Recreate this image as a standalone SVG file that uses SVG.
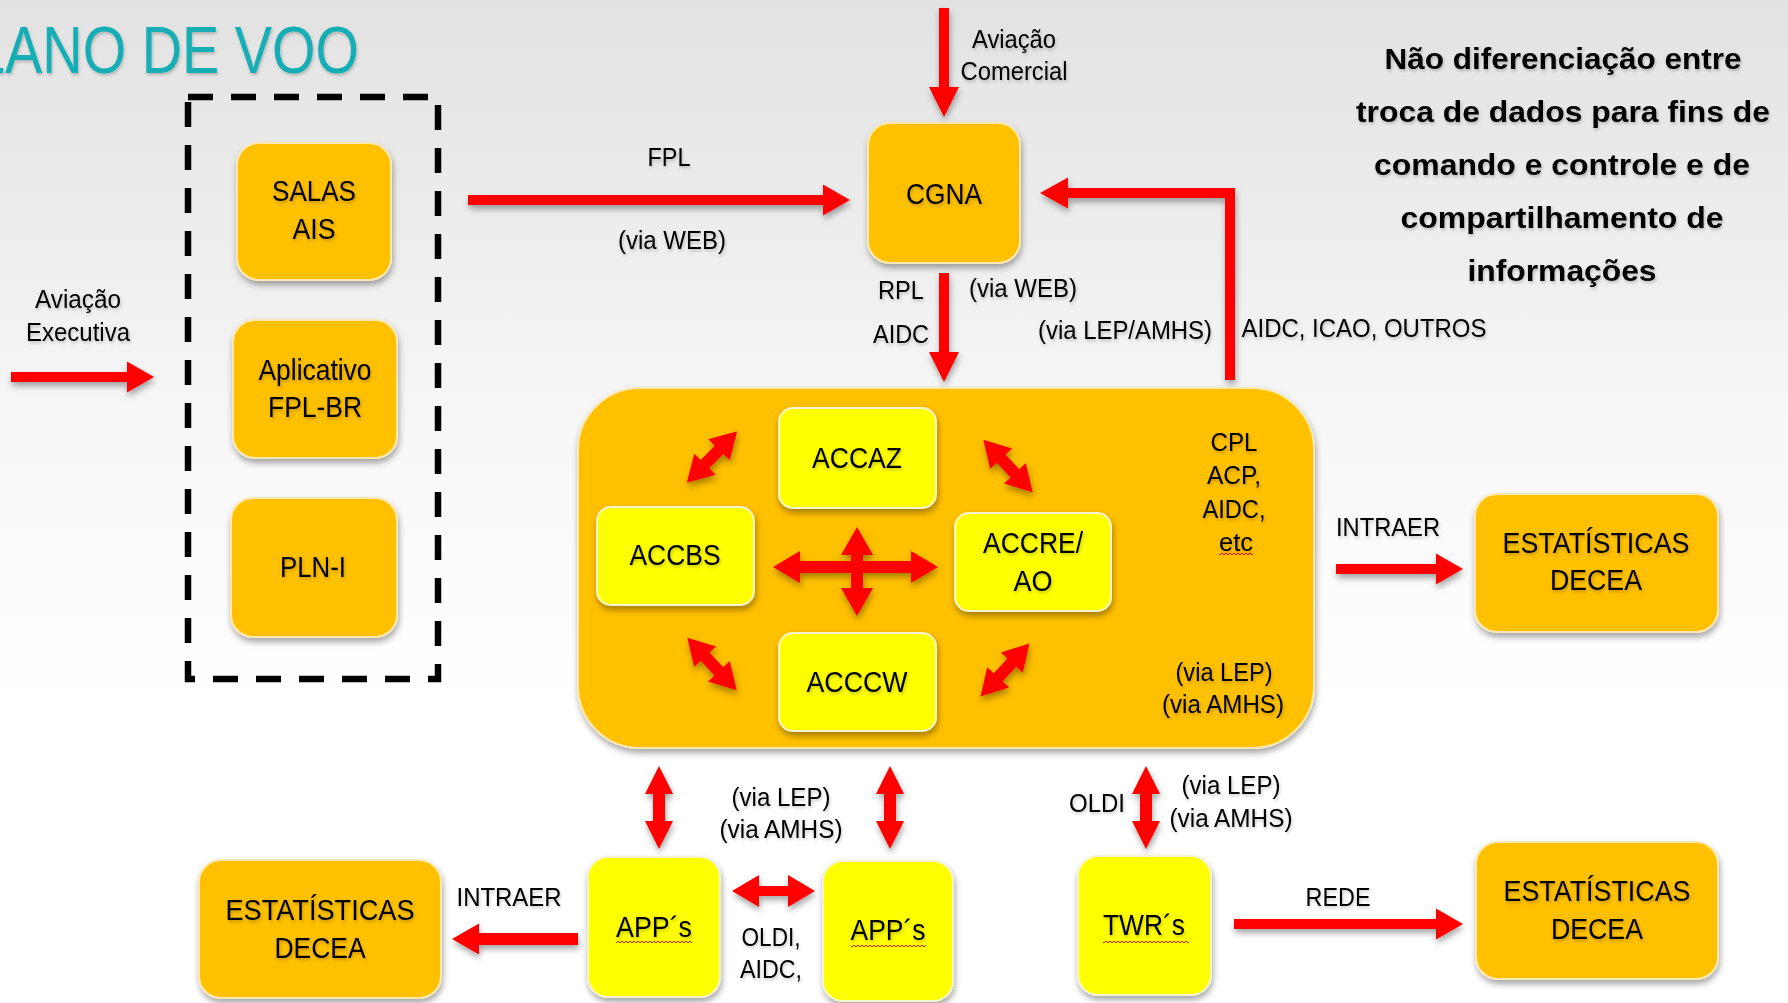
<svg xmlns="http://www.w3.org/2000/svg" xmlns:xlink="http://www.w3.org/1999/xlink" width="1788" height="1003" viewBox="0 0 1788 1003">
<defs>
<linearGradient id="bg" x1="0" y1="0" x2="0" y2="1">
<stop offset="0" stop-color="#e2e2e2"/>
<stop offset="0.45" stop-color="#f8f8f8"/>
<stop offset="0.7" stop-color="#ffffff"/>
<stop offset="1" stop-color="#ffffff"/>
</linearGradient>
<filter id="sh" x="-20%" y="-20%" width="140%" height="150%">
<feDropShadow dx="1" dy="4" stdDeviation="3" flood-color="#000" flood-opacity="0.35"/>
</filter>
<filter id="tsh" x="-10%" y="-20%" width="120%" height="150%">
<feDropShadow dx="1" dy="2" stdDeviation="1.5" flood-color="#000" flood-opacity="0.22"/>
</filter>
<pattern id="wavy" width="4" height="4" patternUnits="userSpaceOnUse">
<path d="M0 3 L2 1 L4 3" fill="none" stroke="#e00000" stroke-width="0.9"/>
</pattern>
<polygon id="dbl" points="-36,0 -10,-15 -10,-6 10,-6 10,-15 36,0 10,15 10,6 -10,6 -10,15"/>
<style>
text{font-family:"Liberation Sans",Arial,sans-serif;fill:#000;text-anchor:middle;filter:url(#tsh)}
.lb{font-size:25px}
.bx{font-size:29px}
.bd{font-size:30px;font-weight:bold}
.ttl{font-size:66px;fill:#12adb4;text-anchor:start}
.or{fill:#ffc000;stroke:#ffe9b0;stroke-width:2;filter:url(#sh)}
.ye{fill:#ffff00;stroke:#f4f4d0;stroke-width:2;filter:url(#sh)}
.arr{fill:#ff0000}
.wv{fill:url(#wavy)}
</style>
</defs>
<rect x="0" y="0" width="1788" height="1003" fill="url(#bg)"/>

<text class="ttl" x="-26" y="73" textLength="385" lengthAdjust="spacingAndGlyphs">LANO DE VOO</text>

<g id="note">
<text class="bd" x="1563" y="69" textLength="357" lengthAdjust="spacingAndGlyphs">Não diferenciação entre</text>
<text class="bd" x="1563" y="122" textLength="414" lengthAdjust="spacingAndGlyphs">troca de dados para fins de</text>
<text class="bd" x="1562" y="175" textLength="376" lengthAdjust="spacingAndGlyphs">comando e controle e de</text>
<text class="bd" x="1562" y="228" textLength="323" lengthAdjust="spacingAndGlyphs">compartilhamento de</text>
<text class="bd" x="1562" y="281" textLength="189" lengthAdjust="spacingAndGlyphs">informações</text>
</g>

<g id="group-dashed">
<rect x="188" y="97" width="250" height="582" fill="none" stroke="#000" stroke-width="6.5" stroke-dasharray="25 18"/>
</g>

<g id="salas-ais">
<rect class="or" x="237" y="143" width="154" height="137" rx="22"/>
<text class="bx" x="314" y="201" textLength="84" lengthAdjust="spacingAndGlyphs">SALAS</text>
<text class="bx" x="314" y="239" textLength="43" lengthAdjust="spacingAndGlyphs">AIS</text>
</g>
<g id="fpl-br">
<rect class="or" x="233" y="320" width="164" height="138" rx="22"/>
<text class="bx" x="315" y="380" textLength="113" lengthAdjust="spacingAndGlyphs">Aplicativo</text>
<text class="bx" x="315" y="417" textLength="94" lengthAdjust="spacingAndGlyphs">FPL-BR</text>
</g>
<g id="pln-i">
<rect class="or" x="231" y="498" width="166" height="139" rx="22"/>
<text class="bx" x="313" y="577" textLength="66" lengthAdjust="spacingAndGlyphs">PLN-I</text>
</g>

<g id="cgna">
<rect class="or" x="868" y="123" width="152" height="140" rx="22"/>
<text class="bx" x="944" y="204" textLength="76" lengthAdjust="spacingAndGlyphs">CGNA</text>
</g>

<g id="acc-center">
<rect class="or" x="578" y="388" width="736" height="360" rx="62"/>
<text class="lb" x="1234" y="451" textLength="47" lengthAdjust="spacingAndGlyphs">CPL</text>
<text class="lb" x="1234" y="484" textLength="54" lengthAdjust="spacingAndGlyphs">ACP,</text>
<text class="lb" x="1234" y="518" textLength="63" lengthAdjust="spacingAndGlyphs">AIDC,</text>
<text class="lb" x="1236" y="551" textLength="34" lengthAdjust="spacingAndGlyphs">etc</text>
<rect class="wv" x="1219" y="552" width="34" height="4"/>
<text class="lb" x="1224" y="681" textLength="97" lengthAdjust="spacingAndGlyphs">(via LEP)</text>
<text class="lb" x="1223" y="713" textLength="122" lengthAdjust="spacingAndGlyphs">(via AMHS)</text>
</g>
<g id="accaz">
<rect class="ye" x="779" y="408" width="157" height="100" rx="14"/>
<text class="bx" x="857" y="468" textLength="90" lengthAdjust="spacingAndGlyphs">ACCAZ</text>
</g>
<g id="accbs">
<rect class="ye" x="597" y="507" width="157" height="98" rx="14"/>
<text class="bx" x="675" y="565" textLength="91" lengthAdjust="spacingAndGlyphs">ACCBS</text>
</g>
<g id="accre-ao">
<rect class="ye" x="955" y="513" width="156" height="98" rx="14"/>
<text class="bx" x="1033" y="553" textLength="100" lengthAdjust="spacingAndGlyphs">ACCRE/</text>
<text class="bx" x="1033" y="591" textLength="39" lengthAdjust="spacingAndGlyphs">AO</text>
</g>
<g id="acccw">
<rect class="ye" x="779" y="633" width="157" height="98" rx="14"/>
<text class="bx" x="857" y="692" textLength="101" lengthAdjust="spacingAndGlyphs">ACCCW</text>
</g>

<g id="estatisticas-top">
<rect class="or" x="1475" y="494" width="243" height="138" rx="22"/>
<text class="bx" x="1596" y="553" textLength="187" lengthAdjust="spacingAndGlyphs">ESTATÍSTICAS</text>
<text class="bx" x="1596" y="590" textLength="92" lengthAdjust="spacingAndGlyphs">DECEA</text>
</g>
<g id="estatisticas-bottom">
<rect class="or" x="1476" y="842" width="242" height="137" rx="22"/>
<text class="bx" x="1597" y="901" textLength="187" lengthAdjust="spacingAndGlyphs">ESTATÍSTICAS</text>
<text class="bx" x="1597" y="939" textLength="92" lengthAdjust="spacingAndGlyphs">DECEA</text>
</g>
<g id="estatisticas-left">
<rect class="or" x="199" y="860" width="242" height="138" rx="22"/>
<text class="bx" x="320" y="920" textLength="189" lengthAdjust="spacingAndGlyphs">ESTATÍSTICAS</text>
<text class="bx" x="320" y="958" textLength="91" lengthAdjust="spacingAndGlyphs">DECEA</text>
</g>

<g id="app-1">
<rect class="ye" x="588" y="857" width="132" height="140" rx="20"/>
<text class="bx" x="654" y="937" textLength="76" lengthAdjust="spacingAndGlyphs">APP´s</text>
<rect class="wv" x="616" y="940" width="76" height="4"/>
</g>
<g id="app-2">
<rect class="ye" x="823" y="861" width="130" height="140" rx="20"/>
<text class="bx" x="888" y="940" textLength="75" lengthAdjust="spacingAndGlyphs">APP´s</text>
<rect class="wv" x="851" y="944" width="75" height="4"/>
</g>
<g id="twr">
<rect class="ye" x="1078" y="856" width="133" height="139" rx="20"/>
<text class="bx" x="1144" y="935" textLength="82" lengthAdjust="spacingAndGlyphs">TWR´s</text>
<rect class="wv" x="1103" y="940" width="86" height="4"/>
</g>

<g id="connectors">
<g class="arr" filter="url(#sh)">
<polygon points="468,195 823,195 823,184.5 850,200 823,215.5 823,205 468,205"/>
<polygon points="11,372 127,372 127,361.5 154,377 127,392.5 127,382 11,382"/>
<polygon points="939,8 949,8 949,87 959,87 944,117 929,87 939,87"/>
<polygon points="939,273 949,273 949,352 959,352 944,382 929,352 939,352"/>
<polygon points="1235,380 1235,188 1068,188 1068,177.5 1040,193 1068,208.5 1068,198 1225,198 1225,380"/>
<polygon points="1336,564 1436,564 1436,553.5 1463,569 1436,584.5 1436,574 1336,574"/>
<polygon points="1234,919 1436,919 1436,908.5 1463,924 1436,939.5 1436,929 1234,929"/>
<polygon points="578,933 479,933 479,923.5 452,939 479,954.5 479,945 578,945"/>
<polygon points="659,766 673,794 665,794 665,821 673,821 659,849 645,821 653,821 653,794 645,794"/>
<polygon points="890,766 904,794 896,794 896,821 904,821 890,849 876,821 884,821 884,794 876,794"/>
<polygon points="1146,766 1160,794 1152,794 1152,821 1160,821 1146,849 1132,821 1140,821 1140,794 1132,794"/>
<polygon points="732,891 759,875 759,886 788,886 788,875 815,891 788,907 788,896 759,896 759,907"/>
<polygon points="773,567 800,551 800,561 911,561 911,551 938,567 911,583 911,573 800,573 800,583"/>
<polygon points="857,527 873,555 863,555 863,588 873,588 857,616 841,588 851,588 851,555 841,555"/>
<use xlink:href="#dbl" transform="translate(712,457) rotate(-45.6)"/>
<use xlink:href="#dbl" transform="translate(1008,466) rotate(46.7)"/>
<use xlink:href="#dbl" transform="translate(712,664) rotate(46.7)"/>
<use xlink:href="#dbl" transform="translate(1005,670) rotate(-47.2)"/>
</g>
<text class="lb" x="1014" y="48" textLength="84" lengthAdjust="spacingAndGlyphs">Aviação</text>
<text class="lb" x="1014" y="80" textLength="107" lengthAdjust="spacingAndGlyphs">Comercial</text>
<text class="lb" x="78" y="308" textLength="86" lengthAdjust="spacingAndGlyphs">Aviação</text>
<text class="lb" x="78" y="341" textLength="104" lengthAdjust="spacingAndGlyphs">Executiva</text>
<text class="lb" x="669" y="166" textLength="43" lengthAdjust="spacingAndGlyphs">FPL</text>
<text class="lb" x="672" y="249" textLength="108" lengthAdjust="spacingAndGlyphs">(via WEB)</text>
<text class="lb" x="901" y="299" textLength="46" lengthAdjust="spacingAndGlyphs">RPL</text>
<text class="lb" x="901" y="343" textLength="56" lengthAdjust="spacingAndGlyphs">AIDC</text>
<text class="lb" x="1023" y="297" textLength="108" lengthAdjust="spacingAndGlyphs">(via WEB)</text>
<text class="lb" x="1125" y="339" textLength="174" lengthAdjust="spacingAndGlyphs">(via LEP/AMHS)</text>
<text class="lb" x="1364" y="337" textLength="245" lengthAdjust="spacingAndGlyphs">AIDC, ICAO, OUTROS</text>
<text class="lb" x="1388" y="536" textLength="104" lengthAdjust="spacingAndGlyphs">INTRAER</text>
<text class="lb" x="1338" y="906" textLength="65" lengthAdjust="spacingAndGlyphs">REDE</text>
<text class="lb" x="1097" y="812" textLength="56" lengthAdjust="spacingAndGlyphs">OLDI</text>
<text class="lb" x="1231" y="794" textLength="99" lengthAdjust="spacingAndGlyphs">(via LEP)</text>
<text class="lb" x="1231" y="827" textLength="123" lengthAdjust="spacingAndGlyphs">(via AMHS)</text>
<text class="lb" x="781" y="806" textLength="99" lengthAdjust="spacingAndGlyphs">(via LEP)</text>
<text class="lb" x="781" y="838" textLength="123" lengthAdjust="spacingAndGlyphs">(via AMHS)</text>
<text class="lb" x="771" y="946" textLength="59" lengthAdjust="spacingAndGlyphs">OLDI,</text>
<text class="lb" x="771" y="978" textLength="62" lengthAdjust="spacingAndGlyphs">AIDC,</text>
<text class="lb" x="509" y="906" textLength="105" lengthAdjust="spacingAndGlyphs">INTRAER</text>
</g>
</svg>
